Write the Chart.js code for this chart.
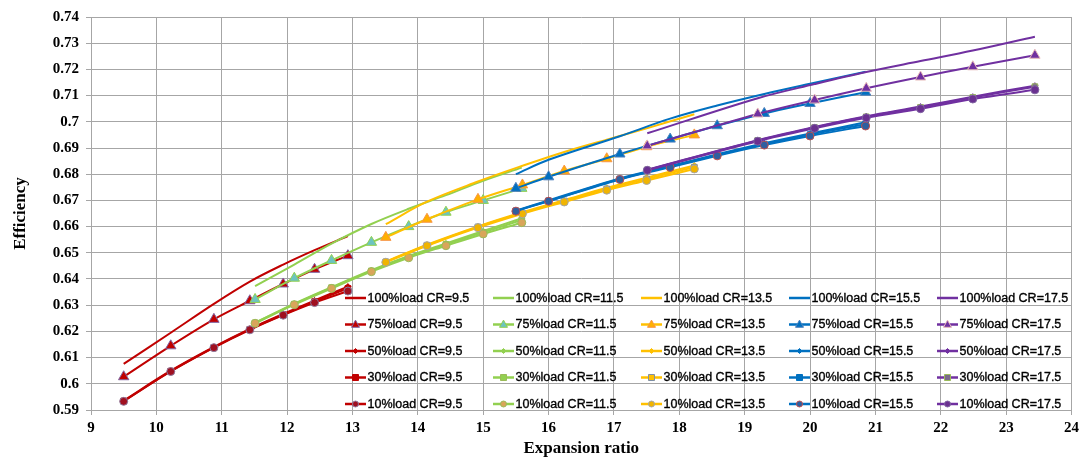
<!DOCTYPE html>
<html><head><meta charset="utf-8">
<script src="https://cdn.jsdelivr.net/npm/chart.js"></script>
<style>html,body{margin:0;padding:0;background:#fff}#wrap{width:1083px;height:459px;position:relative}</style>
</head><body><div id="wrap"><canvas id="c" width="1083" height="459"></canvas></div>
<script>
// ---- Data ----
const crLabels = ['9.5', '11.5', '13.5', '15.5', '17.5'];
const loadLabels = ['100%', '75%', '50%', '30%', '10%'];
const xTickValues = [9, 10, 11, 12, 13, 14, 15, 16, 17, 18, 19, 20, 21, 22, 23, 24];
const yTickValues = [0.59, 0.60, 0.61, 0.62, 0.63, 0.64, 0.65, 0.66, 0.67, 0.68, 0.69, 0.70, 0.71, 0.72, 0.73, 0.74];

// CR = 9.5
const x_CR95 = [9.5, 10.22, 10.88, 11.43, 11.94, 12.42, 12.93];
const e100_CR95 = [0.6076, 0.6195, 0.6305, 0.6390, 0.6455, 0.6510, 0.6564];
const e75_CR95  = [0.6027, 0.6145, 0.6246, 0.6317, 0.6381, 0.6437, 0.6489];
const e50_CR95  = [0.5936, 0.6050, 0.6141, 0.6210, 0.6267, 0.6318, 0.6371];
const e30_CR95  = [0.5934, 0.6048, 0.6139, 0.6208, 0.6264, 0.6314, 0.6364];
const e10_CR95  = [0.5933, 0.6047, 0.6138, 0.6206, 0.6262, 0.6310, 0.6354];

// CR = 11.5
const x_CR115 = [11.51, 12.11, 12.68, 13.29, 13.86, 14.43, 15.0, 15.59];
const e100_CR115 = [0.6373, 0.6455, 0.6535, 0.6610, 0.6668, 0.6720, 0.6775, 0.6825];
const e75_CR115  = [0.6322, 0.6403, 0.6471, 0.6540, 0.6600, 0.6655, 0.6700, 0.6746];
const e50_CR115  = [0.6233, 0.6306, 0.6369, 0.6434, 0.6488, 0.6536, 0.6583, 0.6632];
const e30_CR115  = [0.6232, 0.6304, 0.6367, 0.6431, 0.6485, 0.6532, 0.6578, 0.6625];
const e10_CR115  = [0.6231, 0.6302, 0.6364, 0.6428, 0.6481, 0.6527, 0.6572, 0.6615];

// CR = 13.5
const x_CR135 = [13.51, 14.14, 14.92, 15.6, 16.24, 16.89, 17.5, 18.23];
const e100_CR135 = [0.6609, 0.6695, 0.6772, 0.6832, 0.6885, 0.6932, 0.6975, 0.7029];
const e75_CR135  = [0.6559, 0.6628, 0.6704, 0.6759, 0.6812, 0.6859, 0.6905, 0.6950];
const e50_CR135  = [0.6466, 0.6531, 0.6601, 0.6655, 0.6701, 0.6748, 0.6787, 0.6833];
const e30_CR135  = [0.6465, 0.6529, 0.6599, 0.6652, 0.6698, 0.6744, 0.6782, 0.6827];
const e10_CR135  = [0.6464, 0.6527, 0.6596, 0.6649, 0.6694, 0.6739, 0.6776, 0.6820];

// CR = 15.5
const x_CR155 = [15.5, 16.0, 17.09, 17.86, 18.58, 19.3, 20.0, 20.85];
const e100_CR155 = [0.6800, 0.6855, 0.6945, 0.7012, 0.7062, 0.7106, 0.7145, 0.7191];
const e75_CR155  = [0.6746, 0.6790, 0.6877, 0.6934, 0.6985, 0.7032, 0.7070, 0.7113];
const e50_CR155  = [0.6661, 0.6700, 0.6784, 0.6831, 0.6876, 0.6918, 0.6955, 0.6998];
const e30_CR155  = [0.6660, 0.6698, 0.6782, 0.6829, 0.6873, 0.6915, 0.6951, 0.6991];
const e10_CR155  = [0.6659, 0.6697, 0.6780, 0.6826, 0.6870, 0.6911, 0.6946, 0.6984];

// CR = 17.5
const x_CR175 = [17.51, 19.2, 20.07, 20.86, 21.69, 22.49, 23.44];
const e100_CR175 = [0.6956, 0.7090, 0.7144, 0.7190, 0.7232, 0.7272, 0.7325];
const e75_CR175  = [0.6908, 0.7030, 0.7083, 0.7128, 0.7171, 0.7210, 0.7254];
const e50_CR175  = [0.6817, 0.6930, 0.6980, 0.7021, 0.7058, 0.7096, 0.7138];
const e30_CR175  = [0.6816, 0.6929, 0.6978, 0.7019, 0.7055, 0.7093, 0.7134];
const e10_CR175  = [0.6815, 0.6926, 0.6975, 0.7015, 0.7050, 0.7087, 0.7122];

const xByCR = [x_CR95, x_CR115, x_CR135, x_CR155, x_CR175];
const effByCR = [
  [e100_CR95, e75_CR95, e50_CR95, e30_CR95, e10_CR95],
  [e100_CR115, e75_CR115, e50_CR115, e30_CR115, e10_CR115],
  [e100_CR135, e75_CR135, e50_CR135, e30_CR135, e10_CR135],
  [e100_CR155, e75_CR155, e50_CR155, e30_CR155, e10_CR155],
  [e100_CR175, e75_CR175, e50_CR175, e30_CR175, e10_CR175]
];

// ---- Styles ----
const lineColors = ['#C00000', '#92D050', '#FFC000', '#0070C0', '#7030A0'];
const markerFill = [
  [null, '#C00000', '#C00000', '#C00000', '#A01020'],
  [null, '#6CC4C0', '#92D050', '#92D050', '#D9A55A'],
  [null, '#FFB000', '#FFC000', '#FFC000', '#F0B400'],
  [null, '#0070C0', '#0070C0', '#0070C0', '#2F5F9F'],
  [null, '#7030A0', '#7030A0', '#7A6A8A', '#6A3090']
];
const markerBorder = [
  [null, '#8064A2', '#C00000', '#C00000', '#8C7A9E'],
  [null, '#92D050', '#92D050', '#9BBB59', '#9BBB59'],
  [null, '#F79646', '#FFC000', '#7F8FA6', '#A5A5A5'],
  [null, '#4F81BD', '#0070C0', '#0070C0', '#C0504D'],
  [null, '#E6B9B8', '#7030A0', '#9BBB59', '#8064A2']
];
const pointStyles = [false, 'triangle', 'rectRot', 'rect', 'circle'];
const pointRadii = [0, 6, 3, 4, 4];
const legendRadii = [0, 4, 2.5, 3, 3];

const datasets = [];
let idx = 0;
for (let c = 0; c < 5; c++) {
  for (let l = 0; l < 5; l++) {
    const xs = xByCR[c], ys = effByCR[c][l];
    datasets.push({
      label: loadLabels[l] + 'load CR=' + crLabels[c],
      data: xs.map((x, i) => ({ x: x, y: ys[i] })),
      showLine: true,
      borderColor: lineColors[c],
      borderWidth: 2,
      backgroundColor: markerFill[c][l] || lineColors[c],
      pointBackgroundColor: markerFill[c][l] || lineColors[c],
      pointBorderColor: markerBorder[c][l] || lineColors[c],
      pointBorderWidth: 1,
      pointStyle: pointStyles[l] || 'circle',
      pointRadius: pointRadii[l],
      pointHoverRadius: pointRadii[l],
      tension: 0.35,
      order: -idx,
      _cr: c, _load: l
    });
    idx++;
  }
}

function drawMarker(ctx, style, x, y, r) {
  ctx.beginPath();
  if (style === 'triangle') {
    ctx.moveTo(x, y - r * 1.1);
    ctx.lineTo(x + r, y + r * 0.7);
    ctx.lineTo(x - r, y + r * 0.7);
    ctx.closePath();
  } else if (style === 'rect') {
    ctx.rect(x - r, y - r, 2 * r, 2 * r);
  } else if (style === 'rectRot') {
    ctx.moveTo(x, y - r); ctx.lineTo(x + r, y); ctx.lineTo(x, y + r); ctx.lineTo(x - r, y); ctx.closePath();
  } else {
    ctx.arc(x, y, r, 0, Math.PI * 2);
  }
  ctx.fill();
  ctx.stroke();
}

const gridLegend = {
  id: 'gridLegend',
  afterDraw(chart) {
    const ctx = chart.ctx;
    const a = chart.chartArea;
    ctx.save();
    ctx.font = '12.5px "Liberation Sans", Arial, sans-serif';
    ctx.textBaseline = 'middle';
    ctx.textAlign = 'left';
    chart.data.datasets.forEach(ds => {
      const c = ds._cr, l = ds._load;
      const x0 = a.left + 254 + c * 148;
      const y = a.top + 281 + l * 26.5;
      ctx.strokeStyle = ds.borderColor;
      ctx.lineWidth = 2.5;
      ctx.beginPath(); ctx.moveTo(x0, y); ctx.lineTo(x0 + 21, y); ctx.stroke();
      if (legendRadii[l] > 0) {
        ctx.fillStyle = ds.pointBackgroundColor;
        ctx.strokeStyle = ds.pointBorderColor;
        ctx.lineWidth = 1;
        drawMarker(ctx, ds.pointStyle, x0 + 10.5, y, legendRadii[l]);
      }
      ctx.fillStyle = '#000';
      ctx.strokeStyle = '#000';
      ctx.lineWidth = 0.35;
      ctx.fillText(ds.label, x0 + 22.5, y + 0.5);
      ctx.strokeText(ds.label, x0 + 22.5, y + 0.5);
    });
    ctx.restore();
  }
};

Chart.defaults.font.family = '"Liberation Serif", "Times New Roman", serif';
Chart.defaults.color = '#000';

new Chart(document.getElementById('c'), {
  type: 'scatter',
  data: { datasets: datasets },
  plugins: [gridLegend],
  options: {
    responsive: false,
    animation: false,
    devicePixelRatio: 1,
    layout: { padding: { top: 17, right: 10, left: 0, bottom: 0 } },
    plugins: { legend: { display: false }, tooltip: { enabled: false } },
    scales: {
      x: {
        type: 'linear', min: 9, max: 24,
        afterBuildTicks: s => { s.ticks = xTickValues.map(v => ({ value: v })); },
        afterFit: s => { s.height = 49; },
        ticks: { font: { size: 15, weight: 'bold' }, color: '#000', padding: 4, callback: v => String(v) },
        grid: { color: '#A6A6A6', lineWidth: 1, tickLength: 5 },
        border: { color: '#A6A6A6' },
        title: { display: true, text: 'Expansion ratio', font: { size: 17, weight: 'bold' }, color: '#000', padding: { top: 0, bottom: 0 } }
      },
      y: {
        type: 'linear', min: 0.59, max: 0.74,
        afterBuildTicks: s => { s.ticks = yTickValues.map(v => ({ value: v })); },
        afterFit: s => { s.width = 91; },
        ticks: { font: { size: 15, weight: 'bold' }, color: '#000', padding: 7, callback: v => String(+(+v).toFixed(2)) },
        grid: { color: '#A6A6A6', lineWidth: 1, tickLength: 5 },
        border: { color: '#A6A6A6' },
        title: { display: true, text: 'Efficiency', font: { size: 17, weight: 'bold' }, color: '#000', padding: { top: 10, bottom: 0 } }
      }
    }
  }
});
</script></body></html>
